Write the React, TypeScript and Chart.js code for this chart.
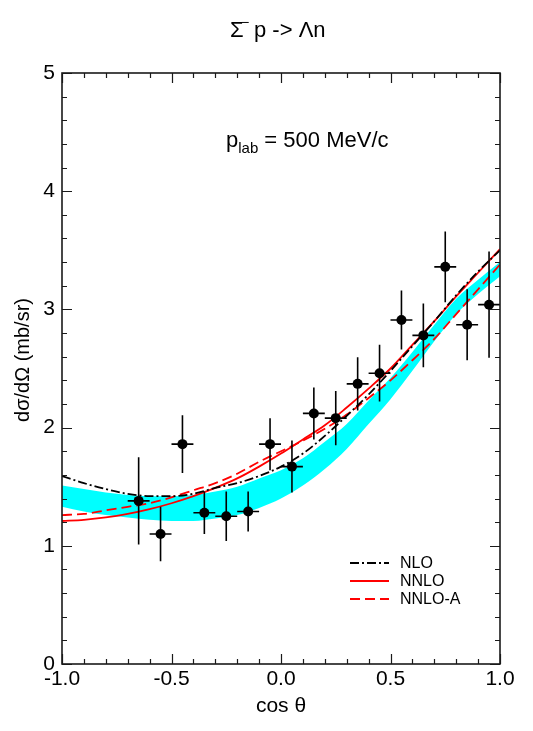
import { useEffect, useRef } from "react";
import { Chart, registerables } from "chart.js";

Chart.register(...registerables);

// ---- data ----
const curveX = [-1.0, -0.9, -0.8, -0.7, -0.6, -0.5, -0.4, -0.3, -0.2, -0.1, 0.0, 0.1, 0.2, 0.3, 0.4, 0.5, 0.6, 0.7, 0.8, 0.9, 1.0];
const nloY = [1.59, 1.53, 1.48, 1.44, 1.42, 1.42, 1.44, 1.49, 1.53, 1.59, 1.67, 1.78, 1.93, 2.10, 2.28, 2.48, 2.69, 2.90, 3.12, 3.32, 3.50];
const nnloY = [1.21, 1.22, 1.24, 1.27, 1.31, 1.36, 1.42, 1.49, 1.57, 1.67, 1.78, 1.90, 2.02, 2.17, 2.33, 2.50, 2.70, 2.90, 3.11, 3.31, 3.51];
const nnloAY = [1.26, 1.27, 1.30, 1.33, 1.36, 1.41, 1.47, 1.53, 1.61, 1.71, 1.80, 1.89, 1.99, 2.11, 2.25, 2.40, 2.57, 2.75, 2.96, 3.17, 3.38];
const bandUpper = [1.51, 1.48, 1.45, 1.43, 1.42, 1.42, 1.43, 1.46, 1.50, 1.57, 1.64, 1.74, 1.88, 2.03, 2.23, 2.42, 2.64, 2.87, 3.09, 3.25, 3.40];
const bandLower = [1.33, 1.29, 1.26, 1.24, 1.22, 1.21, 1.21, 1.23, 1.26, 1.32, 1.40, 1.51, 1.65, 1.82, 2.03, 2.24, 2.48, 2.73, 2.96, 3.13, 3.28];

const expX = [-0.65, -0.55, -0.45, -0.35, -0.25, -0.15, -0.05, 0.05, 0.15, 0.25, 0.35, 0.45, 0.55, 0.65, 0.75, 0.85, 0.95];
const expY = [1.38, 1.10, 1.86, 1.28, 1.25, 1.29, 1.86, 1.67, 2.12, 2.08, 2.37, 2.46, 2.91, 2.78, 3.36, 2.87, 3.04];
const expErr = [0.37, 0.23, 0.245, 0.18, 0.21, 0.17, 0.22, 0.22, 0.22, 0.23, 0.225, 0.24, 0.25, 0.27, 0.30, 0.30, 0.45];
const binHalf = 0.05;

const xTickLabels = ["-1.0", "-0.5", "0.0", "0.5", "1.0"];
const yTickLabels = ["0", "1", "2", "3", "4", "5"];

const seriesNames = ["NLO", "NNLO", "NNLO-A"];

const FONT = '"Liberation Sans", Arial, Helvetica, sans-serif';
const NLO_DASH = [9, 3, 2, 3];
const NNLOA_DASH = [10, 5];

const pts = (xs: number[], ys: number[]) => xs.map((x, i) => ({ x, y: ys[i] }));

const vBars: any[] = [];
const hBars: any[] = [];
expX.forEach((x, i) => {
  vBars.push({ x, y: expY[i] - expErr[i] }, { x, y: expY[i] + expErr[i] }, { x, y: null });
  hBars.push({ x: x - binHalf, y: expY[i] }, { x: x + binHalf, y: expY[i] }, { x, y: null });
});

const framePlugin = {
  id: "frameTicks",
  afterDatasetsDraw(chart: any) {
    const { ctx, chartArea: a, scales } = chart;
    const sx = scales.x;
    const sy = scales.y;
    ctx.save();
    ctx.strokeStyle = "#1a1a1a";
    ctx.lineWidth = 1.2;
    ctx.beginPath();
    for (let i = 0; i <= 20; i++) {
      const px = Math.round(sx.getPixelForValue(-1 + i * 0.1)) + 0.5;
      const len = i % 5 === 0 ? 10 : 5;
      ctx.moveTo(px, a.bottom);
      ctx.lineTo(px, a.bottom - len);
      ctx.moveTo(px, a.top);
      ctx.lineTo(px, a.top + len);
    }
    for (let i = 0; i <= 25; i++) {
      const py = Math.round(sy.getPixelForValue(i * 0.2)) + 0.5;
      const len = i % 5 === 0 ? 10 : 5;
      ctx.moveTo(a.left, py);
      ctx.lineTo(a.left + len, py);
      ctx.moveTo(a.right, py);
      ctx.lineTo(a.right - len, py);
    }
    ctx.stroke();
    ctx.lineWidth = 1.6;
    ctx.strokeRect(a.left, a.top, a.right - a.left, a.bottom - a.top);
    ctx.restore();
  },
};

const annotPlugin = {
  id: "annotations",
  afterDraw(chart: any) {
    const { ctx } = chart;
    ctx.save();
    ctx.fillStyle = "#000";
    ctx.textBaseline = "alphabetic";
    ctx.textAlign = "left";

    // title: Σ⁻p -> Λn
    ctx.font = `22px ${FONT}`;
    ctx.fillText("\u03A3", 230, 37);
    ctx.font = `14px ${FONT}`;
    ctx.fillText("\u2212", 241, 27);
    ctx.font = `22px ${FONT}`;
    ctx.fillText("p -> \u039Bn", 254, 37);

    // p_lab = 500 MeV/c
    ctx.font = `22px ${FONT}`;
    let xx = 226;
    ctx.fillText("p", xx, 147);
    xx += ctx.measureText("p").width;
    ctx.font = `15px ${FONT}`;
    ctx.fillText("lab", xx, 153);
    xx += ctx.measureText("lab").width;
    ctx.font = `22px ${FONT}`;
    ctx.fillText(" = 500 MeV/c", xx, 147);

    // y axis title
    ctx.save();
    ctx.translate(23, 360);
    ctx.rotate(-Math.PI / 2);
    ctx.font = `20px ${FONT}`;
    ctx.textAlign = "center";
    ctx.textBaseline = "middle";
    ctx.fillText("d\u03C3/d\u03A9 (mb/sr)", 0, 0);
    ctx.restore();

    // legend
    const rows = [563, 581, 599];
    const styles = [
      { color: "#000", dash: NLO_DASH },
      { color: "#ff0000", dash: [] as number[] },
      { color: "#ff0000", dash: NNLOA_DASH },
    ];
    rows.forEach((ry, i) => {
      ctx.beginPath();
      ctx.strokeStyle = styles[i].color;
      ctx.lineWidth = 1.8;
      ctx.setLineDash(styles[i].dash);
      ctx.moveTo(350, ry);
      ctx.lineTo(389, ry);
      ctx.stroke();
      ctx.setLineDash([]);
      ctx.font = `16px ${FONT}`;
      ctx.textAlign = "left";
      ctx.textBaseline = "middle";
      ctx.fillText(seriesNames[i], 400, ry + 1);
    });
    ctx.restore();
  },
};

export default function App() {
  const ref = useRef<HTMLCanvasElement | null>(null);

  useEffect(() => {
    if (!ref.current) return;
    Chart.defaults.color = "#000";
    Chart.defaults.font.family = FONT;

    const chart = new Chart(ref.current, {
      type: "line",
      data: {
        datasets: [
          {
            label: "points",
            data: pts(expX, expY),
            showLine: false,
            pointRadius: 5,
            pointBackgroundColor: "#000",
            pointBorderColor: "#000",
            pointBorderWidth: 0,
            order: 0,
          } as any,
          {
            label: "vErr",
            data: vBars,
            borderColor: "#000",
            borderWidth: 1.6,
            pointRadius: 0,
            spanGaps: false,
            order: 1,
          },
          {
            label: "hErr",
            data: hBars,
            borderColor: "#000",
            borderWidth: 1.6,
            pointRadius: 0,
            spanGaps: false,
            order: 2,
          },
          {
            label: seriesNames[0],
            data: pts(curveX, nloY),
            borderColor: "#000",
            borderWidth: 1.8,
            borderDash: NLO_DASH,
            pointRadius: 0,
            cubicInterpolationMode: "monotone",
            order: 3,
          },
          {
            label: seriesNames[1],
            data: pts(curveX, nnloY),
            borderColor: "#ff0000",
            borderWidth: 1.8,
            pointRadius: 0,
            cubicInterpolationMode: "monotone",
            order: 4,
          },
          {
            label: seriesNames[2],
            data: pts(curveX, nnloAY),
            borderColor: "#ff0000",
            borderWidth: 1.8,
            borderDash: NNLOA_DASH,
            pointRadius: 0,
            cubicInterpolationMode: "monotone",
            order: 5,
          },
          {
            label: "bandUpper",
            data: pts(curveX, bandUpper),
            borderColor: "rgba(0,0,0,0)",
            borderWidth: 0,
            backgroundColor: "#00ffff",
            fill: "+1",
            pointRadius: 0,
            cubicInterpolationMode: "monotone",
            order: 6,
          },
          {
            label: "bandLower",
            data: pts(curveX, bandLower),
            borderColor: "rgba(0,0,0,0)",
            borderWidth: 0,
            pointRadius: 0,
            cubicInterpolationMode: "monotone",
            order: 7,
          },
        ],
      },
      options: {
        animation: false,
        responsive: false,
        devicePixelRatio: 1,
        events: [],
        layout: { padding: { top: 73, right: 33, bottom: 0, left: 0 } },
        plugins: {
          legend: { display: false },
          title: { display: false },
          tooltip: { enabled: false },
        },
        scales: {
          x: {
            type: "linear",
            min: -1,
            max: 1,
            grid: { display: false, drawTicks: false },
            border: { display: false },
            afterFit: (s: any) => {
              s.height = 67;
            },
            afterBuildTicks: (s: any) => {
              s.ticks = xTickLabels.map((t) => ({ value: parseFloat(t) }));
            },
            ticks: {
              padding: 3,
              maxRotation: 0,
              autoSkip: false,
              font: { size: 21, family: FONT },
              color: "#000",
              callback: (_v: any, i: number) => xTickLabels[i],
            },
            title: {
              display: true,
              text: "cos \u03B8",
              font: { size: 21, family: FONT },
              color: "#000",
              padding: { top: 0, bottom: 12 },
            },
          },
          y: {
            type: "linear",
            min: 0,
            max: 5,
            grid: { display: false, drawTicks: false },
            border: { display: false },
            afterFit: (s: any) => {
              s.width = 62;
            },
            afterBuildTicks: (s: any) => {
              s.ticks = yTickLabels.map((t) => ({ value: parseFloat(t) }));
            },
            ticks: {
              padding: 7,
              autoSkip: false,
              font: { size: 21, family: FONT },
              color: "#000",
              callback: (_v: any, i: number) => yTickLabels[i],
            },
            title: { display: false },
          },
        },
      },
      plugins: [framePlugin, annotPlugin],
    } as any);

    return () => chart.destroy();
  }, []);

  return (
    <div style={{ position: "fixed", left: 0, top: 0, width: 533, height: 731, background: "#fff" }}>
      <canvas ref={ref} width={533} height={731} style={{ width: 533, height: 731, display: "block" }} />
    </div>
  );
}
